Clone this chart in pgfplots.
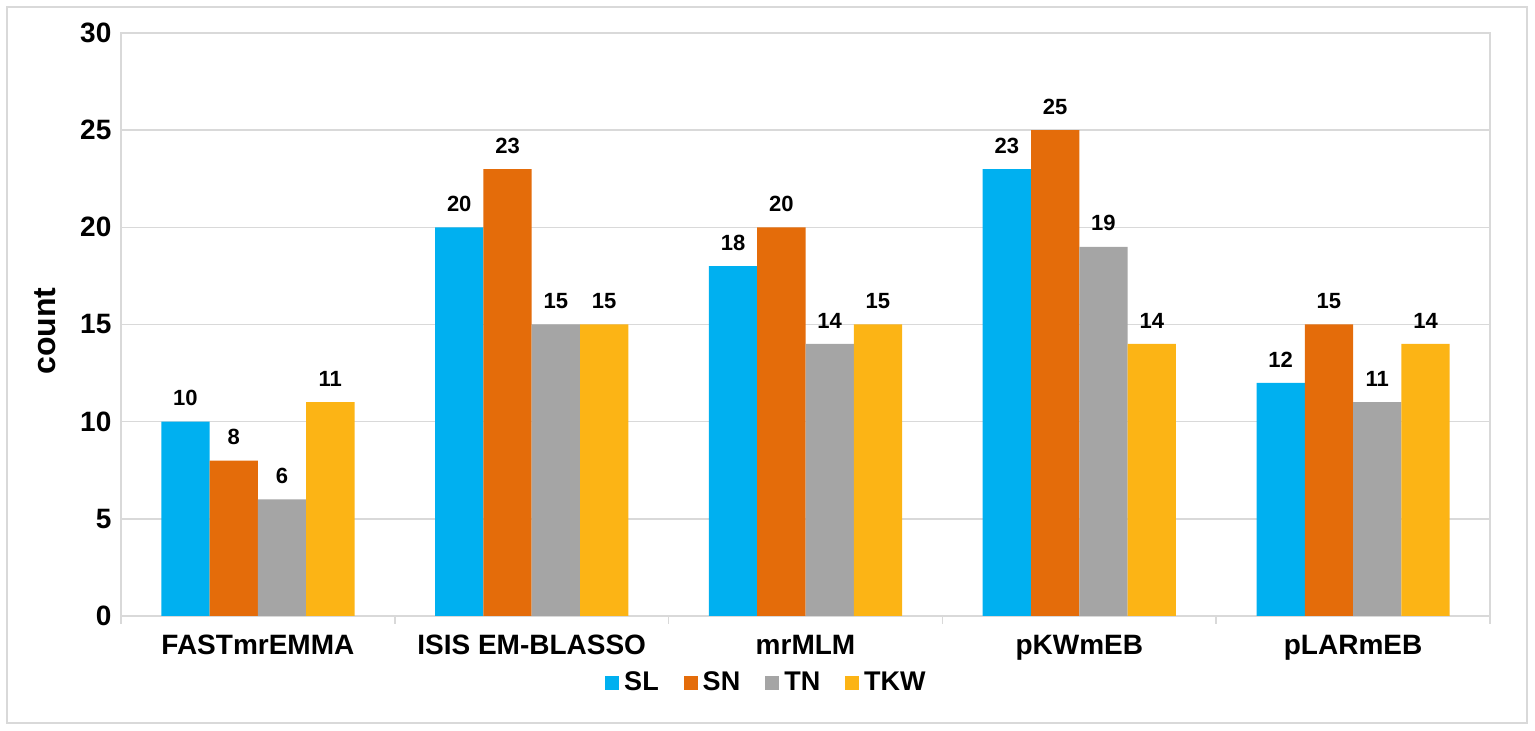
\documentclass[border=0pt]{standalone}
\usepackage{fontspec}
\setmainfont{Liberation Sans}
\usepackage{pgfplots}
\pgfplotsset{compat=1.18}
\definecolor{cSL}{HTML}{00B0F0}
\definecolor{cSN}{HTML}{E46C0A}
\definecolor{cTN}{HTML}{A5A5A5}
\definecolor{cTKW}{HTML}{FCB415}
\definecolor{cLine}{HTML}{D9D9D9}
\begin{document}
\begin{tikzpicture}
\useasboundingbox (0pt,0pt) rectangle (767.5pt,365.5pt);
\draw[cLine, line width=1pt] (3.5pt,4pt) rectangle (763.5pt,362pt);
\begin{axis}[
  at={(60.5pt,57.5pt)}, anchor=south west,
  width=684.5pt, height=291.5pt, scale only axis,
  ybar=0pt, bar width=24.15pt,
  ymin=0, ymax=30, ytick={0,5,...,30},
  xmin=-0.5, xmax=4.5, xtick={0,1,2,3,4},
  xticklabels={FASTmrEMMA, ISIS EM-BLASSO, mrMLM, pKWmEB, pLARmEB},
  minor xtick={-0.5,0.5,1.5,2.5,3.5,4.5},
  major tick length=0pt, minor tick length=4pt,
  tick align=outside, xtick pos=bottom, ytick pos=left,
  minor tick style={cLine, line width=0.75pt},
  axis line style={cLine, line width=0.75pt},
  ymajorgrids, grid style={cLine, line width=0.75pt},
  /pgf/number format/assume math mode=true,
  ticklabel style={font=\bfseries\fontsize{14}{14}\selectfont},
  yticklabel style={xshift=-1.3pt},
  xticklabel style={yshift=-6pt},
  ylabel={count},
  every axis y label/.style={at={(axis description cs:-0.0555,0.489)}, rotate=90, anchor=center,
    font=\bfseries\fontsize{16}{16}\selectfont},
  nodes near coords,
  every node near coord/.append style={font=\bfseries\fontsize{11}{11}\selectfont, yshift=4.3pt, black},
  legend columns=4,
  legend style={at={(0.4726,-0.115)}, anchor=center, draw=none, fill=none,
    font=\bfseries\fontsize{13.5}{13.5}\selectfont,
    /tikz/every even column/.append style={column sep=10pt},
    nodes={inner xsep=2.5pt}},
  legend image code/.code={\fill[#1] (0pt,-3.5pt) rectangle (7pt,3.5pt);},
]
\addplot[fill=cSL, draw=none] coordinates {(0,10) (1,20) (2,18) (3,23) (4,12)};
\addplot[fill=cSN, draw=none] coordinates {(0,8) (1,23) (2,20) (3,25) (4,15)};
\addplot[fill=cTN, draw=none] coordinates {(0,6) (1,15) (2,14) (3,19) (4,11)};
\addplot[fill=cTKW, draw=none] coordinates {(0,11) (1,15) (2,15) (3,14) (4,14)};
\legend{SL, SN, TN, TKW}
\end{axis}
\end{tikzpicture}
\end{document}
